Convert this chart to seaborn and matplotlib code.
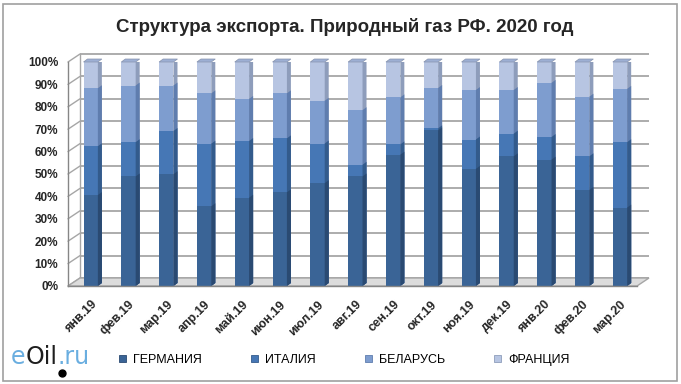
import numpy as np
import pandas as pd
import matplotlib
matplotlib.use("Agg")
import matplotlib.pyplot as plt
import seaborn as sns
from matplotlib.patches import Polygon, Rectangle, Patch
from matplotlib.offsetbox import TextArea, HPacker, AnchoredOffsetbox

# ---------------- data ----------------
months = ["янв.19", "фев.19", "мар.19", "апр.19", "май.19", "июн.19", "июл.19",
          "авг.19", "сен.19", "окт.19", "ноя.19", "дек.19", "янв.20", "фев.20", "мар.20"]
germany = [40.6, 48.9, 49.9, 35.6, 39.4, 41.8, 45.9, 48.9, 58.6, 69.5, 52.3, 57.9, 56.4, 42.9, 35.0]
italy = [21.8, 15.3, 19.3, 27.9, 25.3, 24.1, 17.7, 5.2, 4.6, 0.9, 13.1, 10.1, 10.1, 15.0, 29.2]
belarus = [25.9, 25.3, 20.3, 22.5, 18.8, 20.1, 19.1, 24.4, 21.0, 18.0, 22.1, 19.5, 24.2, 26.6, 23.8]
france = [11.7, 10.5, 10.5, 14.0, 16.5, 14.0, 17.3, 21.5, 15.8, 11.6, 12.5, 12.5, 9.3, 15.5, 12.0]
series_names = ["ГЕРМАНИЯ", "ИТАЛИЯ", "БЕЛАРУСЬ", "ФРАНЦИЯ"]
yticks = list(range(0, 101, 10))
title = "Структура экспорта. Природный газ РФ. 2020 год"

front_colors = ["#3A6496", "#4677B5", "#7E9DCF", "#B7C5E2"]
side_colors = ["#2A4A72", "#335B8C", "#5F7DAE", "#8E9DBB"]
top_color = "#9DAFD3"

sns.set_style("white")
plt.rcParams["font.family"] = ["Liberation Sans", "DejaVu Sans"]

W, H = 681, 384
fig = plt.figure(figsize=(W / 100, H / 100), dpi=100)
fig.patch.set_facecolor("white")

L, R, T, B = 68, 637, 62, 286
ax = fig.add_axes([L / W, 1 - B / H, (R - L) / W, (B - T) / H])
xmin, xmax = -0.6, 14.45

df = pd.DataFrame({"month": months, "ГЕРМАНИЯ": germany, "ИТАЛИЯ": italy,
                   "БЕЛАРУСЬ": belarus, "ФРАНЦИЯ": france})
cum = df[series_names].cumsum(axis=1)

# depth geometry (pixels -> data units)
px_x = (R - L) / (xmax - xmin)
px_y = (B - T) / 100.0
sx, sy = 12 / px_x, 8 / px_y          # back wall shift
bx, by = 4 / px_x, 3 / px_y           # bar depth
bw = 0.38

# floor and back wall
grid_c = "#A6A6A6"
ax.add_patch(Polygon([(xmin, 0), (xmax, 0), (xmax + sx, sy), (xmin + sx, sy)],
                     closed=True, facecolor="#DCDCDC", edgecolor=grid_c, lw=1.0,
                     zorder=0.5, clip_on=False))
for v in yticks:
    ax.plot([xmin + sx, xmax + sx], [v + sy, v + sy], color=grid_c, lw=1.3,
            zorder=0.2, clip_on=False, solid_capstyle="butt")
    ax.plot([xmin, xmin + sx], [v, v + sy], color=grid_c, lw=1.0,
            zorder=0.2, clip_on=False)
ax.plot([xmin + sx, xmin + sx], [sy, 100 + sy], color=grid_c, lw=1.0, zorder=0.2, clip_on=False)

# stacked bars: draw cumulative totals from the top series down
for k in range(len(series_names) - 1, -1, -1):
    name = series_names[k]
    n0 = len(ax.patches)
    sns.barplot(x=df["month"], y=cum[name], color=front_colors[k], saturation=1,
                width=bw, ax=ax)
    new = ax.patches[n0:]
    z = 10 + (len(series_names) - k) * 3
    for p in new:
        p.set_zorder(z)
        p.set_edgecolor("none")
        x0 = p.get_x()
        x1 = x0 + p.get_width()
        y1 = p.get_height()
        side = Polygon([(x1, 0), (x1 + bx, by), (x1 + bx, y1 + by), (x1, y1)], closed=True,
                       facecolor=side_colors[k], edgecolor="none", zorder=z + 1)
        ax.add_patch(side)
        if k == len(series_names) - 1:
            top = Polygon([(x0, y1), (x0 + bx, y1 + by), (x1 + bx, y1 + by), (x1, y1)],
                          closed=True, facecolor=top_color, edgecolor="#8894AE",
                          lw=0.5, zorder=z + 1, clip_on=False)
            ax.add_patch(top)

ax.set_xlim(xmin, xmax)
ax.set_ylim(0, 100)
ax.set_xlabel("")
ax.set_ylabel("")
for s in ["top", "right"]:
    ax.spines[s].set_visible(False)
for s in ["left", "bottom"]:
    ax.spines[s].set_color("#868686")
    ax.spines[s].set_linewidth(1.0)
    ax.spines[s].set_zorder(30)

ax.set_yticks(yticks)
ax.set_yticklabels([f"{v}%" for v in yticks], fontsize=8.5, fontweight="bold")
ax.tick_params(axis="y", direction="out", length=4, color="#868686", pad=3)
ax.set_xticks(range(len(months)))
ax.set_xticklabels(months, fontsize=9, fontweight="bold", rotation=45,
                   ha="right", rotation_mode="anchor")
ax.tick_params(axis="x", which="major", length=0, pad=9)
ax.set_xticks(np.arange(0.5, len(months) - 0.5, 1), minor=True)
ax.tick_params(axis="x", which="minor", direction="out", length=4, color="#868686")
ax.grid(False)
for lbl in ax.get_xticklabels():
    lbl.set_x(lbl.get_position()[0])

# title
fig.text(0.5 + 4 / W, 1 - 27 / H, title, ha="center", va="center",
         fontsize=13.5, fontweight="bold")

# legend
handles = [Patch(facecolor=front_colors[i], edgecolor=side_colors[i], lw=0.6)
           for i in range(len(series_names))]
fig.legend(handles, series_names, loc="center left", bbox_to_anchor=(114 / W, 1 - 360 / H),
           ncol=4, frameon=False, fontsize=9, handlelength=0.55, handleheight=0.55,
           handletextpad=0.6, columnspacing=3.9, borderaxespad=0, labelcolor="black")

# logo
blue = "#6AAEE0"
parts = [TextArea("e", textprops=dict(color=blue, fontsize=17, family="DejaVu Sans")),
         TextArea("Oil", textprops=dict(color="#1E1E1E", fontsize=17, family="DejaVu Sans")),
         TextArea(".ru", textprops=dict(color=blue, fontsize=17, family="DejaVu Sans"))]
box = HPacker(children=parts, align="baseline", pad=0, sep=0)
anch = AnchoredOffsetbox(loc="center left", child=box, pad=0, frameon=False,
                         bbox_to_anchor=(11 / W, 1 - 357 / H), bbox_transform=fig.transFigure,
                         borderpad=0)
fig.add_artist(anch)
fig.add_artist(plt.Line2D([62 / W], [1 - 373 / H], marker="o", markersize=5,
                          color="black", transform=fig.transFigure))

# border
fig.add_artist(Rectangle((3 / W, 3 / H), 1 - 7 / W, 1 - 7 / H, transform=fig.transFigure,
                         facecolor="none", edgecolor="#A0A0A0", lw=1.2))

fig.savefig("out.png", dpi=100, facecolor="white")
